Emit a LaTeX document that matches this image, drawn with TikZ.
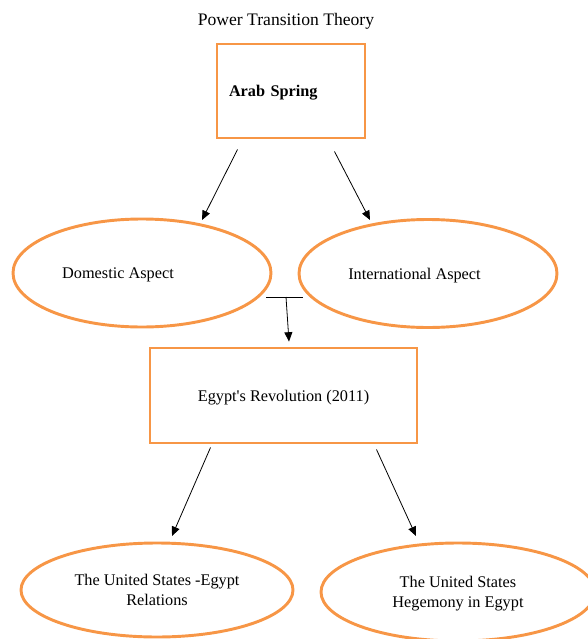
\documentclass[tikz,border=0pt]{standalone}
\usepackage{fontspec}
\setmainfont{Liberation Serif}
\usetikzlibrary{shapes.geometric,arrows.meta}
\definecolor{accorange}{HTML}{F79646}
\tikzset{
  box/.style={draw=accorange,line width=2.2pt,rectangle,inner sep=0pt},
  oval/.style={draw=accorange,line width=2.2pt,ellipse,inner sep=0pt},
  arr/.style={black,line width=0.6pt,-{Triangle[width=6pt,length=7pt]}},
  lbl/.style={font=\fontsize{12.2}{15}\selectfont,align=center,text depth=0pt}
}
\begin{document}
\begin{tikzpicture}[x=0.75pt,y=-0.75pt]
        \useasboundingbox (0,0) rectangle (588,639);
        \node[font=\fontsize{13.2}{16}\selectfont,text depth=0pt] (title) at (286,19) {Power Transition Theory};
        % top box
        \node[box,minimum width=111pt,minimum height=70.5pt,text width=93pt,inner xsep=9pt,align=left,text depth=0pt,font=\fontsize{12.2}{15}\selectfont\bfseries] (arab) at (291,91) {Arab Spring};
        % aspects
        \node[oval,minimum width=193.5pt,minimum height=81pt] (dom) at (142,273) {};
        \node[lbl] (domtxt) at ([shift={(-24,0)}]dom.center) {Domestic Aspect};
        \node[oval,minimum width=193.5pt,minimum height=81pt] (intl) at (428,273.5) {};
        \node[lbl] (intltxt) at ([shift={(-13.5,0)}]intl.center) {International Aspect};
        % revolution
        \node[box,lbl,minimum width=200.25pt,minimum height=71.25pt] (rev) at (283.5,395.5) {Egypt\textquotesingle s Revolution (2011)};
        % outcomes
        \node[oval,lbl,minimum width=204pt,minimum height=70.5pt] (usr) at (157,590) {The United States -Egypt\\Relations};
        \node[oval,lbl,minimum width=205.5pt,minimum height=73.5pt] (heg) at (458,592) {The United States\\Hegemony in Egypt};
        \coordinate (tee) at (286,297);
        \draw[arr] ([shift={(22,10)}]arab.south west) -- ([shift={(60,-53)}]dom.center);
        \draw[arr] ([shift={(-32,12)}]arab.south east) -- ([shift={(-58,-53.5)}]intl.center);
        \draw[black,line width=0.6pt] ([shift={(-20,0)}]tee) -- ([shift={(17,0)}]tee);
        \draw[arr] (tee) -- ([shift={(5.5,-5)}]rev.north);
        \draw[arr] ([shift={(62,3)}]rev.south west) -- ([shift={(15,-54)}]usr.center);
        \draw[arr] ([shift={(-42,5)}]rev.south east) -- ([shift={(-42,-56)}]heg.center);
      \end{tikzpicture}
\end{document}
